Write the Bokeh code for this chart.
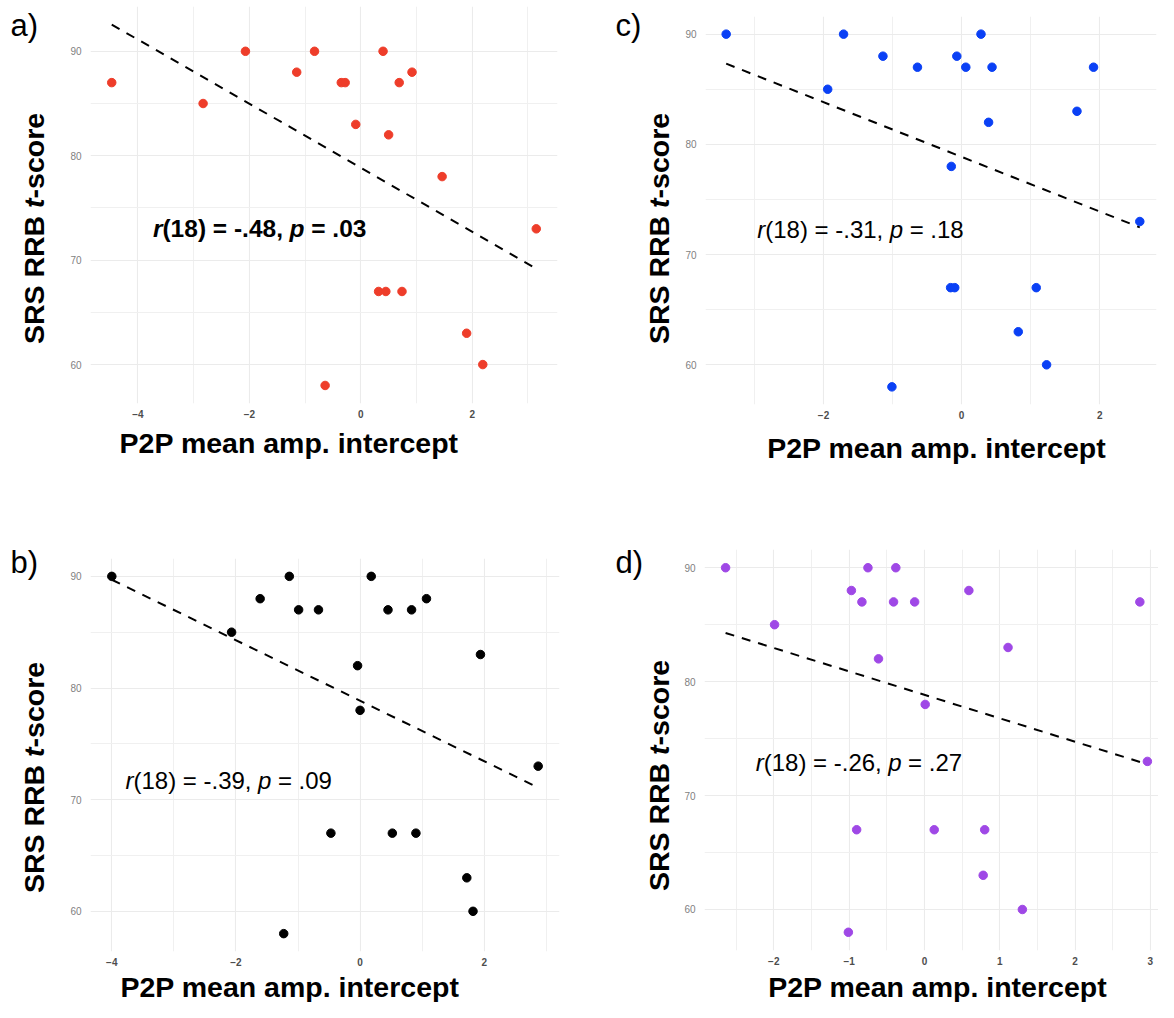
import numpy as np
from bokeh.plotting import figure
from bokeh.models import Range1d, FixedTicker, Label
from bokeh.layouts import row, column
from bokeh.embed import file_html
from bokeh.resources import INLINE

# ---------------- data ----------------
a_x = [-4.47, -2.83, -2.07, -1.15, -0.83, -0.35, -0.28, -0.09, 0.40, 0.50,
       0.69, 0.92, 1.46, 0.32, 0.45, 0.74, 1.90, 2.19, -0.64, 3.15]
a_y = [87, 85, 90, 88, 90, 87, 87, 83, 90, 82,
       87, 88, 78, 67, 67, 67, 63, 60, 58, 73]

b_x = [-4.00, -2.07, -1.61, -1.14, -0.99, -0.67, -0.04, 0.00, 0.18, 0.45,
       0.83, 1.07, 1.94, -0.47, 0.52, 0.90, 1.72, 1.82, -1.23, 2.87]
b_y = [90, 85, 88, 90, 87, 87, 82, 78, 90, 87,
       87, 88, 83, 67, 67, 67, 63, 60, 58, 73]

c_x = [-3.41, -1.71, -1.94, -1.14, -0.64, -0.07, 0.06, 0.28, 0.44, 0.39,
       -0.15, -0.16, -0.10, 1.08, 0.82, 1.23, -1.01, 1.67, 1.91, 2.58]
c_y = [90, 90, 85, 88, 87, 88, 87, 90, 87, 82,
       78, 67, 67, 67, 63, 60, 58, 83, 87, 73]

d_x = [-2.64, -1.99, -0.97, -0.83, -0.75, -0.61, -0.41, -0.38, -0.13, 0.01,
       0.59, 1.11, 2.86, 2.96, -0.90, 0.13, 0.80, 0.78, 1.30, -1.01]
d_y = [90, 85, 88, 87, 90, 82, 87, 90, 87, 78,
       88, 83, 87, 73, 67, 67, 67, 63, 60, 58]

x_ticks_a = [-4, -2, 0, 2]
x_minor_a = [-3, -1, 1, 3]
x_ticks_b = [-4, -2, 0, 2]
x_minor_b = [-3, -1, 1, 3]
x_ticks_c = [-2, 0, 2]
x_minor_c = [-3, -1, 1, 3]
x_ticks_d = [-2, -1, 0, 1, 2, 3]
x_minor_d = [-2.5, -1.5, -0.5, 0.5, 1.5, 2.5]
y_ticks = [60, 70, 80, 90]
y_minor = [65, 75, 85]

x_title = "P2P mean amp. intercept"
y_title_parts = ["SRS RRB ", "t", "-score"]
stat_a = ["r", "(18) = -.48, ", "p", " = .03"]
stat_b = ["r", "(18) = -.39, ", "p", " = .09"]
stat_c = ["r", "(18) = -.31, ", "p", " = .18"]
stat_d = ["r", "(18) = -.26, ", "p", " = .27"]
panel_letters = ["a)", "b)", "c)", "d)"]

# ---------------- styling / layout ----------------
FONT = "Liberation Sans"
MID = 0.35  # em-box middle above the baseline
REG = {'r': .333, '(': .333, ')': .333, ' ': .278, '=': .584, '-': .333,
       '.': .278, ',': .278, 'p': .556}
BOLD = {'r': .389, '(': .333, ')': .333, ' ': .278, '=': .584, '-': .333,
        '.': .278, ',': .278, 'p': .611, 'S': .667, 'R': .722, 'B': .722,
        't': .333, 's': .556, 'c': .556, 'o': .611, 'e': .556}
for dgt in "0123456789":
    REG[dgt] = .556
    BOLD[dgt] = .556


def text_width(s, bold, size):
    tbl = BOLD if bold else REG
    return sum(tbl.get(ch, .556) for ch in s) * size


# geometry in layout pixels (origin = top-left of the whole layout)
panels = {
    "a": dict(x=a_x, y=a_y, color="#EE3D2A", ticks=x_ticks_a, minor=x_minor_a,
              stat=stat_a, bold=True, letter=panel_letters[0],
              block=(0, 0, 582, 466), ref=(89, 557, 6, 403), vis=(89, 557, 6, 403),
              letter_pos=(10, 36), xt_pos=(286, 452), yt_pos=(43, 228),
              stat_at=(-3.73, 72.17)),
    "c": dict(x=c_x, y=c_y, color="#0A40F5", ticks=x_ticks_c, minor=x_minor_c,
              stat=stat_c, bold=False, letter=panel_letters[2],
              block=(582, 0, 576, 466), ref=(704, 1160, 16, 404), vis=(704, 1156, 16, 404),
              letter_pos=(615, 36), xt_pos=(926, 457), yt_pos=(668, 228),
              stat_at=(-2.96, 71.55)),
    "b": dict(x=b_x, y=b_y, color="#000000", ticks=x_ticks_b, minor=x_minor_b,
              stat=stat_b, bold=False, letter=panel_letters[1],
              block=(0, 466, 582, 536), ref=(89, 559, 558, 951), vis=(89, 559, 558, 951),
              letter_pos=(10, 573), xt_pos=(286, 996), yt_pos=(43, 777),
              stat_at=(-3.78, 70.94)),
    "d": dict(x=d_x, y=d_y, color="#9F48E6", ticks=x_ticks_d, minor=x_minor_d,
              stat=stat_d, bold=False, letter=panel_letters[3],
              block=(582, 466, 576, 536), ref=(703, 1168, 549, 950), vis=(703, 1158, 549, 950),
              letter_pos=(615, 573), xt_pos=(926, 996), yt_pos=(668, 775),
              stat_at=(-2.24, 72.2)),
}

AX_L = 22   # room for y tick labels inside main figure
AX_B = 18   # room for x tick labels inside main figure


def expand(vals, frac=0.05):
    lo, hi = float(np.min(vals)), float(np.max(vals))
    pad = (hi - lo) * frac
    return lo - pad, hi + pad


def text_fig(w, h):
    f = figure(width=w, height=h, x_range=Range1d(0, w), y_range=Range1d(0, h),
               x_axis_type=None, y_axis_type=None, output_backend="svg",
               toolbar_location=None, tools="", min_border=0,
               min_border_left=0, min_border_right=0, min_border_top=0,
               min_border_bottom=0)
    f.outline_line_color = None
    f.background_fill_color = "white"
    f.border_fill_color = "white"
    return f


def seg_labels(fig, parts, styles, bold, size, x0, y0, vertical, conv):
    """x0,y0: start/centre on the baseline in page pixels (y down)."""
    total = sum(text_width(s, bold, size) for s in parts)
    cum = 0.0
    sp = text_width(" ", bold, size)
    for s, st in zip(parts, styles):
        lead = len(s) - len(s.lstrip(" "))
        pos = cum + lead * sp
        txt = s.strip(" ")
        if vertical:
            px, py = x0 - MID * size, y0 + total / 2 - pos
            ang = np.pi / 2
        else:
            px, py = x0 + pos, y0 - MID * size
            ang = 0.0
        X, Y = conv(px, py)
        fig.add_layout(Label(x=X, y=Y, text=txt, text_font=FONT,
                             text_font_size=f"{size}px", text_font_style=st,
                             text_color="black", angle=ang, angle_units="rad",
                             text_align="left", text_baseline="middle"))
        cum += text_width(s, bold, size)


def make_block(P):
    xs = np.asarray(P["x"], float)
    ys = np.asarray(P["y"], float)
    slope, icpt = np.polyfit(xs, ys, 1)
    lx = np.array([xs.min(), xs.max()])
    ly = slope * lx + icpt
    x0, x1 = expand(xs)
    y0, y1 = expand(np.concatenate([ys, ly]))

    rl, rr, rt, rb = P["ref"]
    vl, vr, vt, vb = P["vis"]
    xppu = (rr - rl) / (x1 - x0)
    yppu = (rb - rt) / (y1 - y0)
    vx0 = x0 + (vl - rl) / xppu
    vx1 = x1 - (rr - vr) / xppu
    vy1 = y1 - (vt - rt) / yppu
    vy0 = y0 + (rb - vb) / yppu

    bx, by, bw, bh = P["block"]
    main_x = vl - AX_L
    main_w = bx + bw - main_x
    main_h = vb + AX_B - by
    left_w = main_x - bx
    bot_h = bh - main_h

    p = figure(width=main_w, height=main_h,
               x_range=Range1d(vx0, vx1), y_range=Range1d(vy0, vy1),
               output_backend="svg", toolbar_location=None, tools="",
               min_border_left=AX_L, min_border_right=bx + bw - vr,
               min_border_top=vt - by, min_border_bottom=AX_B)
    p.outline_line_color = None
    p.background_fill_color = "white"
    p.border_fill_color = "white"

    p.xaxis.ticker = FixedTicker(ticks=P["ticks"], minor_ticks=P["minor"])
    p.yaxis.ticker = FixedTicker(ticks=y_ticks, minor_ticks=y_minor)
    for ax in (p.xaxis[0], p.yaxis[0]):
        ax.axis_line_color = None
        ax.major_tick_line_color = None
        ax.minor_tick_line_color = None
        ax.major_tick_out = 0
        ax.major_tick_in = 0
        ax.major_label_text_font = FONT
        ax.major_label_text_font_size = "10px"
    p.xaxis.major_label_text_font_style = "bold"
    p.xaxis.major_label_text_color = "#4D4D4D"
    p.xaxis.major_label_standoff = 2
    p.yaxis.major_label_text_color = "#7F7F7F"
    p.yaxis.major_label_standoff = 5

    for g in (p.xgrid[0], p.ygrid[0]):
        g.grid_line_color = "#EBEBEB"
        g.grid_line_width = 1.1
        g.minor_grid_line_color = "#F0F0F0"
        g.minor_grid_line_width = 1.0

    p.line(lx, ly, line_color="black", line_width=2, line_dash="9 8")
    p.scatter(xs, ys, size=8.5, fill_color=P["color"], line_color=P["color"])

    # statistics text inside the plot (data anchor, pixel advances)
    ax0, ay0 = P["stat_at"]
    xpp = (vx1 - vx0) / (vr - vl)
    ypp = (vy1 - vy0) / (vb - vt)
    size = 24.5 if P["bold"] else 24
    styles = ["bold italic", "bold", "bold italic", "bold"] if P["bold"] else \
             ["italic", "normal", "italic", "normal"]
    seg_labels(p, P["stat"], styles, P["bold"], size, 0.0, 0.0, False,
               lambda px, py: (ax0 + px * xpp, ay0 - py * ypp))

    # left text figure: panel letter + y title
    lf = text_fig(left_w, bh)
    conv_l = lambda px, py: (px - bx, by + bh - py)
    lxp, lyp = P["letter_pos"]
    X, Y = conv_l(lxp, lyp - MID * 31)
    lf.add_layout(Label(x=X, y=Y, text=P["letter"], text_font=FONT,
                        text_font_size="31px", text_color="black",
                        text_align="left", text_baseline="middle"))
    tx, ty = P["yt_pos"]
    seg_labels(lf, y_title_parts, ["bold", "bold italic", "bold"], True, 28.5,
               tx, ty, True, conv_l)

    # bottom text figure: x title
    bf = text_fig(main_w, bot_h)
    conv_b = lambda px, py: (px - main_x, by + bh - py)
    cx, cy = P["xt_pos"]
    X, Y = conv_b(cx, cy - MID * 28.5)
    bf.add_layout(Label(x=X, y=Y, text=x_title, text_font=FONT,
                        text_font_size="28.5px", text_font_style="bold",
                        text_color="black", text_align="center",
                        text_baseline="middle"))
    return row(lf, column(p, bf))


blk_a = make_block(panels["a"])
blk_c = make_block(panels["c"])
blk_b = make_block(panels["b"])
blk_d = make_block(panels["d"])

layout = column(row(blk_a, blk_c), row(blk_b, blk_d))
open("out.html", "w").write(file_html(layout, INLINE))
